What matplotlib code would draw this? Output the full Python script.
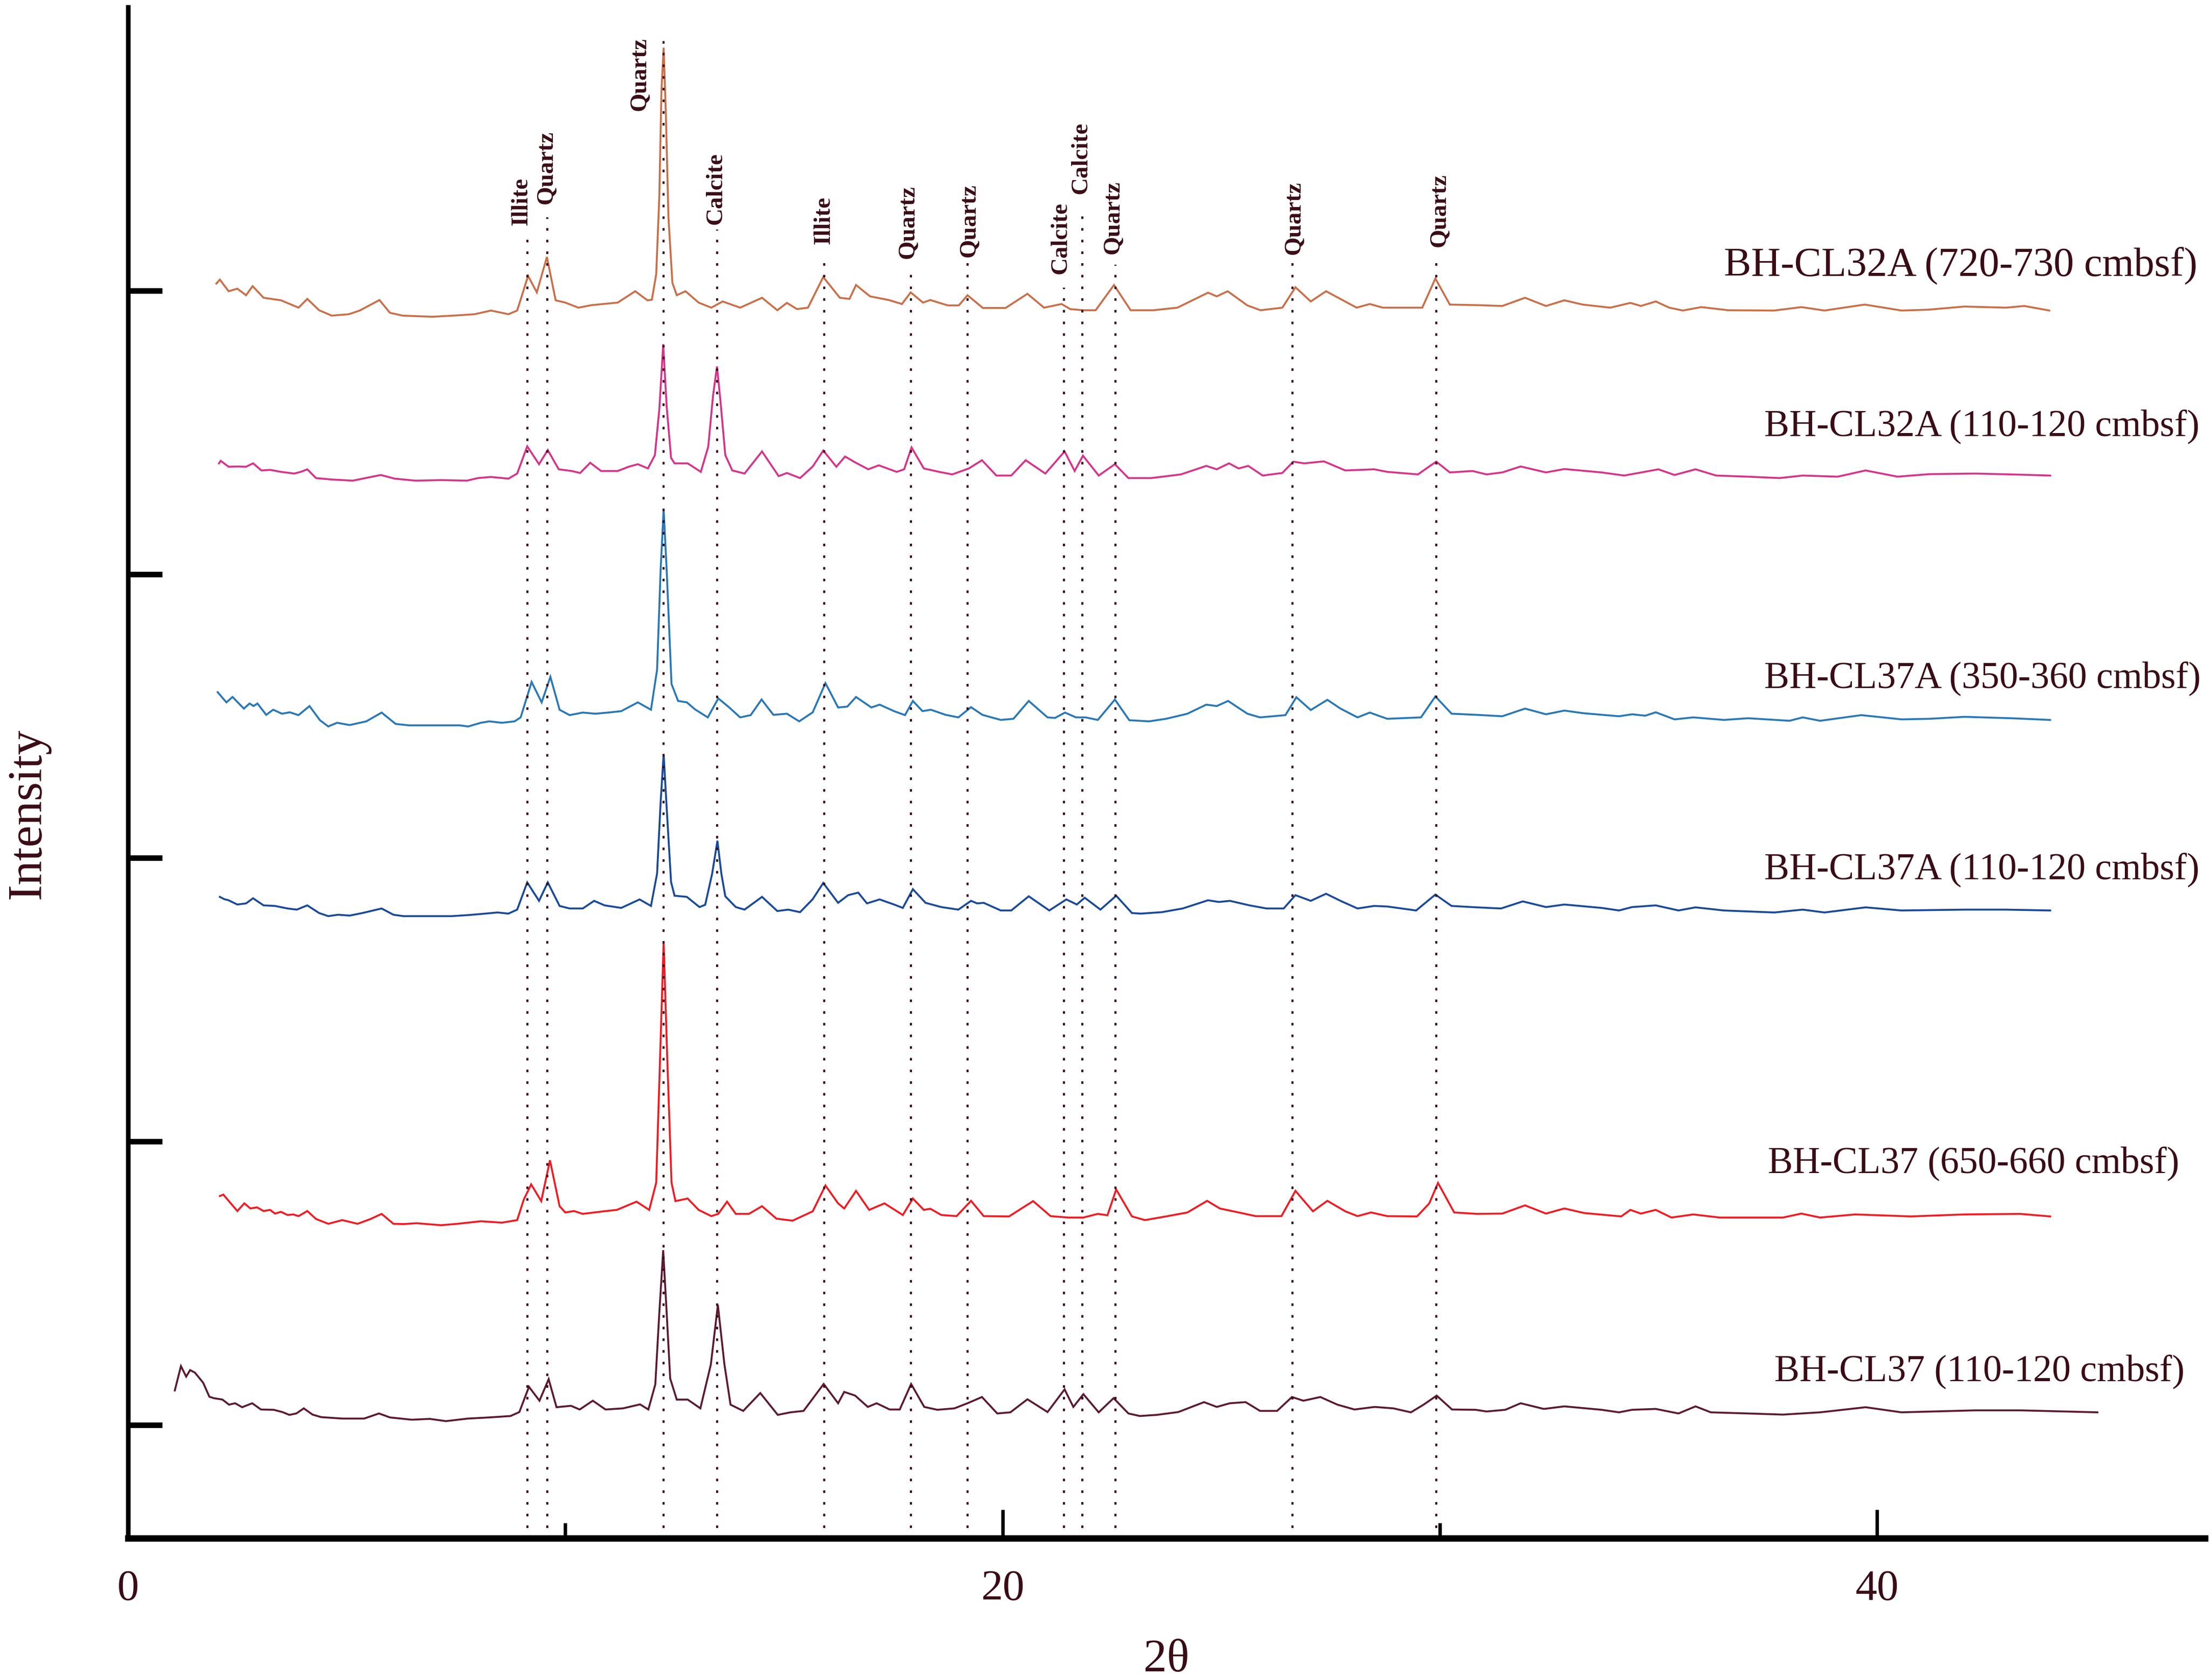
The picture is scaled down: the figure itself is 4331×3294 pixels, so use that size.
import matplotlib
matplotlib.use("Agg")
import matplotlib.pyplot as plt
from matplotlib.ticker import FixedLocator

plt.rcParams['font.family'] = ['Liberation Serif', 'DejaVu Serif']

INK = '#3a0c16'

# XRD patterns: 2-theta and counts above each pattern's baseline
cl32a_720_x = [2.02, 2.1, 2.3, 2.5, 2.7, 2.85, 3.1, 3.5, 3.9, 4.1, 4.37, 4.66, 5.05, 5.3, 5.75, 5.99, 6.28, 6.96,
               7.54, 7.93, 8.3, 8.7, 8.9, 9.15, 9.35, 9.58, 9.78, 10.0, 10.3, 10.6, 11.2, 11.6, 11.88, 11.98, 12.08,
               12.15, 12.2, 12.25, 12.3, 12.36, 12.45, 12.55, 12.75, 13.05, 13.34, 13.6, 14.0, 14.5, 14.85, 15.07,
               15.3, 15.55, 15.9, 16.28, 16.5, 16.65, 16.97, 17.4, 17.7, 17.9, 18.18, 18.35, 18.75, 19.0, 19.2,
               19.55, 20.07, 20.57, 20.95, 21.35, 21.55, 21.85, 22.13, 22.55, 22.93, 23.45, 24.0, 24.7, 24.9, 25.15,
               25.6, 25.9, 26.4, 26.7, 27.05, 27.4, 28.1, 28.4, 28.7, 29.6, 29.9, 30.23, 30.85, 31.43, 31.95, 32.43,
               32.85, 33.27, 33.9, 34.36, 34.6, 34.94, 35.25, 35.56, 35.98, 36.6, 37.65, 38.27, 38.8, 39.72, 40.56,
               41.18, 42.0, 42.95, 43.37, 43.94]
cl32a_720_y = [117, 131, 90, 99, 76, 108, 67, 58, 32, 63, 23, 4, 9, 22, 59, 14, 4, 0,
               5, 9, 22, 9, 22, 144, 86, 211, 58, 50, 32, 41, 50, 90, 58, 60, 150,
               420, 800, 949, 720, 350, 120, 76, 90, 50, 32, 54, 32, 67, 23, 49,
               27, 32, 140, 67, 63, 112, 72, 59, 45, 86, 50, 59, 40, 40, 76,
               31, 31, 81, 32, 45, 27, 23, 23, 112, 23, 23, 32, 85, 72, 90,
               40, 23, 32, 104, 54, 90, 32, 45, 32, 32, 135, 43, 41, 38, 67, 38,
               58, 43, 32, 49, 38, 54, 32, 22, 34, 23, 22, 34, 22, 43, 22,
               25, 36, 32, 38, 22]

cl32a_110_x = [2.08, 2.12, 2.3, 2.5, 2.7, 2.86, 3.05, 3.25, 3.5, 3.8, 3.95, 4.1, 4.3, 4.66, 5.14, 5.43, 5.78, 6.1,
               6.58, 7.16, 7.75, 8.0, 8.3, 8.7, 8.9, 9.13, 9.4, 9.6, 9.85, 10.15, 10.34, 10.57, 10.82, 11.2, 11.45,
               11.66, 11.89, 12.05, 12.15, 12.24, 12.32, 12.42, 12.5, 12.8, 13.1, 13.27, 13.38, 13.47, 13.55, 13.66,
               13.82, 14.1, 14.5, 14.88, 15.07, 15.37, 15.66, 15.9, 16.2, 16.4, 16.6, 16.93, 17.17, 17.58, 17.75,
               17.92, 18.2, 18.55, 18.85, 19.23, 19.53, 19.86, 20.2, 20.53, 20.98, 21.42, 21.65, 21.84, 22.2, 22.57,
               22.88, 23.4, 24.08, 24.66, 24.9, 25.18, 25.4, 25.62, 25.95, 26.4, 26.65, 26.9, 27.35, 27.84, 28.5,
               28.8, 29.5, 29.92, 30.23, 30.75, 31.07, 31.43, 31.85, 32.43, 32.85, 33.7, 34.22, 34.54, 35.0, 35.37,
               35.85, 36.32, 37.05, 37.77, 38.3, 39.1, 39.74, 40.47, 41.2, 42.25, 43.07, 43.96]
cl32a_110_y = [61, 70, 49, 50, 49, 61, 36, 38, 31, 25, 31, 40, 9, 4, 0, 9, 20, 7,
               0, 2, 0, 9, 13, 7, 25, 121, 58, 108, 40, 34, 27, 63, 34, 34, 49,
               58, 43, 90, 250, 481, 260, 80, 61, 61, 31, 120, 300, 403, 280, 90,
               36, 25, 103, 16, 27, 9, 50, 106, 49, 85, 67, 40, 54, 31, 40,
               117, 43, 31, 22, 43, 72, 18, 18, 72, 25, 103, 34, 88, 18, 58,
               9, 9, 22, 52, 40, 61, 43, 52, 18, 27, 67, 61, 68, 36, 40,
               31, 22, 67, 29, 34, 22, 29, 50, 29, 41, 29, 18, 27, 40, 20,
               40, 18, 14, 9, 18, 14, 36, 14, 23, 25, 22, 18]

cl37a_350_x = [2.05, 2.25, 2.39, 2.65, 2.78, 2.87, 2.96, 3.16, 3.32, 3.52, 3.7, 3.9, 4.15, 4.39, 4.58, 4.78, 5.07,
               5.45, 5.8, 6.12, 6.42, 7.58, 7.78, 8.07, 8.26, 8.55, 8.84, 8.98, 9.23, 9.46, 9.66, 9.87, 10.1, 10.4,
               10.69, 10.98, 11.28, 11.66, 11.96, 12.1, 12.18, 12.25, 12.32, 12.43, 12.58, 12.78, 12.97, 13.26, 13.5,
               13.75, 14.0, 14.24, 14.49, 14.76, 15.07, 15.35, 15.66, 15.95, 16.24, 16.45, 16.65, 17.0, 17.19, 17.52,
               17.77, 17.95, 18.17, 18.36, 18.7, 18.99, 19.28, 19.54, 19.96, 20.25, 20.6, 21.03, 21.2, 21.43, 21.68,
               21.9, 22.18, 22.57, 22.9, 23.35, 23.74, 24.23, 24.66, 24.9, 25.16, 25.6, 25.89, 26.47, 26.72, 27.05,
               27.43, 27.73, 28.12, 28.4, 28.8, 29.57, 29.9, 30.27, 30.85, 31.43, 31.95, 32.43, 32.85, 33.27, 34.1,
               34.4, 34.7, 34.94, 35.37, 35.8, 36.5, 37.05, 38.0, 38.3, 38.7, 39.64, 40.56, 41.2, 42.0, 43.07, 43.96]
cl37a_350_y = [121, 85, 104, 63, 81, 72, 81, 41, 59, 45, 50, 40, 72, 22, 0, 13, 5,
               18, 49, 9, 4, 4, 0, 13, 18, 13, 18, 32, 157, 85, 175, 59, 40, 49,
               45, 49, 54, 85, 59, 200, 550, 767, 550, 150, 90, 85, 60, 32, 99,
               67, 32, 40, 95, 41, 45, 18, 50, 153, 67, 70, 104, 67, 77, 54,
               40, 90, 54, 59, 41, 32, 68, 41, 23, 27, 90, 32, 30, 49, 32,
               32, 23, 95, 22, 18, 27, 45, 77, 72, 90, 45, 32, 40, 103, 58,
               94, 63, 32, 49, 27, 32, 106, 45, 41, 36, 63, 43, 56, 47, 36,
               43, 38, 50, 25, 32, 23, 29, 20, 32, 20, 40, 25, 27, 34, 29, 23]

cl37a_110_x = [2.1, 2.2, 2.3, 2.5, 2.7, 2.86, 3.1, 3.36, 3.65, 3.86, 4.1, 4.37, 4.58, 4.8, 5.07, 5.36, 5.8, 6.07,
               6.3, 7.4, 7.8, 8.17, 8.45, 8.7, 8.9, 9.13, 9.4, 9.6, 9.87, 10.1, 10.4, 10.66, 10.9, 11.28, 11.7, 11.96,
               12.1, 12.18, 12.25, 12.32, 12.42, 12.5, 12.78, 13.07, 13.2, 13.36, 13.48, 13.57, 13.66, 13.9, 14.1,
               14.5, 14.85, 15.1, 15.37, 15.66, 15.9, 16.24, 16.47, 16.7, 16.9, 17.19, 17.52, 17.72, 17.95, 18.24,
               18.6, 18.99, 19.28, 19.42, 19.57, 19.96, 20.2, 20.6, 21.07, 21.46, 21.7, 21.88, 22.24, 22.6, 22.96,
               23.16, 23.64, 24.12, 24.7, 24.95, 25.2, 25.65, 26.04, 26.43, 26.7, 27.05, 27.4, 27.73, 28.12, 28.5,
               28.8, 29.46, 29.9, 30.27, 30.85, 31.4, 31.9, 32.43, 32.85, 33.7, 34.1, 34.4, 34.94, 35.46, 35.85,
               36.5, 37.65, 38.3, 38.8, 39.74, 40.56, 42.0, 42.95, 43.96]
cl37a_110_y = [68, 60, 56, 41, 45, 63, 38, 36, 27, 23, 38, 11, 0, 5, 2, 11, 27, 5,
               0, 0, 4, 9, 13, 9, 23, 119, 54, 119, 36, 27, 27, 54, 38, 29, 59, 36,
               150, 400, 572, 380, 120, 72, 68, 32, 40, 150, 266, 150, 70, 32, 23,
               68, 18, 23, 14, 60, 117, 47, 74, 83, 45, 59, 41, 29, 95, 47,
               32, 23, 54, 45, 47, 20, 20, 70, 20, 59, 41, 65, 23, 72, 11,
               9, 14, 27, 56, 50, 54, 38, 27, 27, 74, 54, 79, 54, 27, 36,
               34, 20, 76, 36, 31, 27, 52, 32, 41, 29, 20, 32, 38, 20, 31,
               20, 13, 23, 13, 31, 20, 23, 23, 20]

cl37_650_x = [2.1, 2.18, 2.3, 2.5, 2.66, 2.8, 2.95, 3.1, 3.25, 3.36, 3.5, 3.65, 3.78, 3.9, 4.1, 4.3, 4.58, 4.9,
              5.25, 5.55, 5.8, 6.07, 6.3, 6.6, 7.16, 7.54, 8.07, 8.55, 8.9, 9.05, 9.22, 9.45, 9.65, 9.87, 10.0,
              10.2, 10.4, 10.88, 11.18, 11.63, 11.92, 12.08, 12.17, 12.25, 12.33, 12.43, 12.52, 12.8, 13.05, 13.34,
              13.5, 13.7, 13.9, 14.2, 14.5, 14.83, 15.2, 15.66, 15.95, 16.24, 16.38, 16.65, 16.95, 17.3, 17.72,
              17.95, 18.2, 18.35, 18.6, 18.95, 19.28, 19.57, 20.15, 20.7, 21.1, 21.5, 21.85, 22.18, 22.4, 22.6,
              22.96, 23.26, 23.74, 24.23, 24.68, 24.97, 25.4, 25.79, 26.38, 26.7, 27.1, 27.43, 27.84, 28.12, 28.43,
              28.8, 29.48, 29.76, 29.96, 30.33, 30.85, 31.43, 31.95, 32.43, 32.85, 33.3, 34.15, 34.36, 34.6, 34.94,
              35.3, 35.8, 36.4, 37.85, 38.27, 38.7, 39.5, 40.77, 42.0, 43.27, 43.96]
cl37_650_y = [103, 108, 86, 50, 77, 59, 63, 50, 54, 41, 47, 36, 38, 32, 50, 22, 5, 18,
              5, 22, 40, 5, 4, 7, 0, 5, 14, 9, 18, 90, 144, 85, 229, 67, 45,
              50, 40, 49, 54, 83, 54, 150, 600, 999, 600, 150, 85, 94, 54, 32,
              40, 83, 40, 40, 67, 23, 16, 49, 140, 77, 59, 121, 54, 77, 36,
              94, 54, 58, 36, 32, 86, 32, 31, 85, 32, 27, 27, 40, 35, 126,
              31, 18, 31, 45, 86, 59, 45, 32, 32, 121, 49, 86, 49, 32, 45,
              32, 31, 77, 149, 45, 40, 41, 70, 41, 59, 43, 31, 54, 41, 54,
              27, 38, 27, 27, 41, 27, 38, 31, 38, 40, 31]

cl37_110_x = [1.07, 1.21, 1.33, 1.42, 1.53, 1.72, 1.86, 1.96, 2.16, 2.31, 2.45, 2.61, 2.84, 3.04, 3.33, 3.53, 3.69,
              3.85, 4.02, 4.22, 4.42, 4.91, 5.4, 5.74, 5.99, 6.49, 6.9, 7.27, 7.77, 8.26, 8.75, 8.95, 9.17, 9.41,
              9.62, 9.8, 10.13, 10.33, 10.63, 10.92, 11.32, 11.71, 11.9, 12.06, 12.15, 12.24, 12.32, 12.4, 12.55,
              12.8, 13.09, 13.33, 13.49, 13.64, 13.78, 14.07, 14.46, 14.86, 15.15, 15.45, 15.91, 16.24, 16.38,
              16.63, 16.92, 17.12, 17.42, 17.65, 17.91, 18.21, 18.51, 18.9, 19.2, 19.53, 19.88, 20.18, 20.57,
              21.03, 21.42, 21.62, 21.85, 22.2, 22.54, 22.88, 23.14, 23.53, 24.02, 24.61, 24.9, 25.2, 25.56, 25.89,
              26.28, 26.62, 26.88, 27.27, 27.66, 28.05, 28.51, 28.94, 29.34, 29.63, 29.93, 30.28, 30.82, 31.07,
              31.5, 31.85, 32.38, 32.85, 33.7, 34.1, 34.4, 34.94, 35.46, 35.85, 36.2, 37.05, 37.85, 38.7, 39.74,
              40.56, 42.25, 43.27, 44.3, 45.04]
cl37_110_y = [108, 194, 157, 180, 171, 135, 86, 81, 76, 58, 63, 49, 63, 41, 40, 32, 22,
              27, 45, 23, 14, 9, 9, 27, 13, 5, 8, 0, 9, 13, 18, 32, 121, 72,
              148, 49, 54, 41, 72, 41, 45, 59, 41, 130, 380, 603, 380, 150, 76,
              76, 45, 200, 410, 200, 58, 36, 99, 22, 31, 36, 131, 63, 103,
              90, 50, 63, 41, 41, 131, 50, 40, 45, 63, 85, 27, 31, 77,
              32, 112, 50, 95, 31, 81, 27, 18, 22, 32, 67, 50, 63, 67, 36,
              36, 85, 72, 85, 58, 41, 50, 45, 31, 58, 90, 41, 40, 34,
              40, 63, 43, 52, 40, 31, 40, 43, 27, 52, 31, 27, 23, 31, 49,
              31, 38, 38, 34, 31]

sample_names = ['BH-CL32A (720-730 cmbsf)', 'BH-CL32A (110-120 cmbsf)', 'BH-CL37A (350-360 cmbsf)',
                'BH-CL37A (110-120 cmbsf)', 'BH-CL37 (650-660 cmbsf)', 'BH-CL37 (110-120 cmbsf)']
sample_offsets = [4908, 4330, 3463, 2794, 1704, 1013]
sample_colors = ['#c8704a', '#d4358a', '#2a78b5', '#1a4a96', '#ee1c24', '#5c1a2e']
patterns = [(cl32a_720_x, cl32a_720_y), (cl32a_110_x, cl32a_110_y), (cl37a_350_x, cl37a_350_y),
            (cl37a_110_x, cl37a_110_y), (cl37_650_x, cl37_650_y), (cl37_110_x, cl37_110_y)]

# where each sample name sits (2-theta of its left end, counts of its middle)
name_x = [36.5, 37.42, 37.42, 37.42, 37.5, 37.65]
name_y = [5089, 4520, 3632, 2958, 1921, 1188]
name_size = [19.2, 17.7, 17.7, 17.7, 17.7, 17.7]

# mineral peaks marked with dotted lines
mineral_names = ['Illite', 'Quartz', 'Quartz', 'Calcite', 'Illite', 'Quartz', 'Quartz', 'Calcite', 'Calcite',
                 'Quartz', 'Quartz', 'Quartz']
mineral_pos = [9.13, 9.59, 12.25, 13.47, 15.92, 17.91, 19.20, 21.41, 21.82, 22.58, 26.63, 29.92]
line_top = [5182, 5258, 5888, 5215, 5127, 5058, 5098, 5010, 5279, 5091, 5116, 5125]
label_x = [9.0, 9.57, 11.71, 13.45, 15.91, 17.84, 19.24, 21.33, 21.8, 22.53, 26.67, 30.0]
label_y = [5231, 5306, 5635, 5234, 5163, 5114, 5118, 5059, 5342, 5130, 5127, 5155]

fig = plt.figure(figsize=(4331 / 300, 3294 / 300), dpi=300)
ax = fig.add_axes([251 / 4331, 1 - 3016 / 3294, (4323 - 251) / 4331, (3016 - 14) / 3294])

for (xs, ys), off, col in zip(patterns, sample_offsets, sample_colors):
    ax.plot(xs, [v + off for v in ys], color=col, lw=0.9, solid_joinstyle='miter')

ax.vlines(mineral_pos, 636, line_top, colors=INK, linestyles=(0, (1.2, 4.3)), lw=1.0)
for name, x, y in zip(mineral_names, label_x, label_y):
    ax.text(x, y, name, rotation=90, ha='center', va='bottom', fontsize=11.3,
            fontweight='bold', color=INK)

for name, x, y, s in zip(sample_names, name_x, name_y, name_size):
    ax.text(x, y, name, ha='left', va='center', fontsize=s, color=INK)

ax.set_xlim(0, 47.5)
ax.set_ylim(600, 6000)
for side in ['top', 'right']:
    ax.spines[side].set_visible(False)
ax.spines['left'].set_linewidth(2.2)
ax.spines['bottom'].set_linewidth(3.0)

ax.xaxis.set_major_locator(FixedLocator([0, 20, 40]))
ax.xaxis.set_minor_locator(FixedLocator([10, 30]))
ax.yaxis.set_major_locator(FixedLocator([1000, 2000, 3000, 4000, 5000]))
ax.set_yticklabels([])
ax.tick_params(axis='x', which='major', direction='in', length=13.5, width=1.6, pad=15,
               labelsize=20.5, labelcolor=INK)
ax.tick_params(axis='x', which='minor', direction='in', length=7.3, width=1.6)
ax.tick_params(axis='y', which='major', direction='in', length=16, width=2.6)

ax.set_xlabel('2θ', fontsize=22, color=INK, labelpad=14)
fig.text(55 / 4331, 1 - 1595 / 3294, 'Intensity', rotation=90, ha='center', va='center',
         fontsize=23, color=INK)

fig.savefig('out.png', dpi=300)
